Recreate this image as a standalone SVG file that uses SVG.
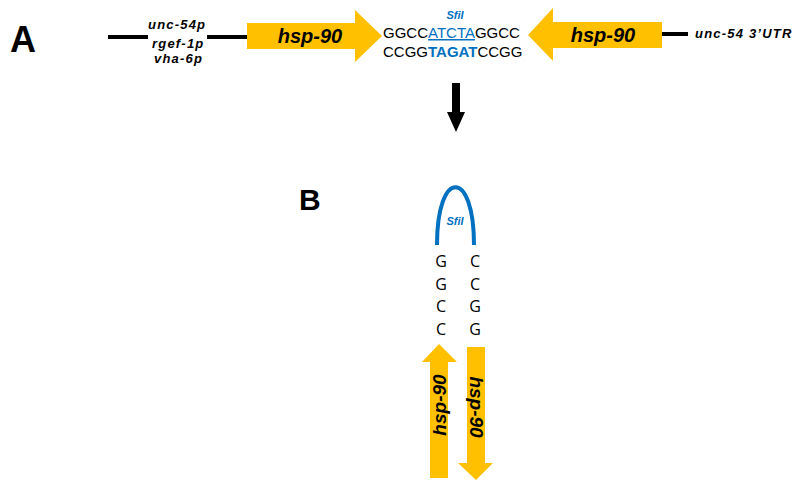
<svg xmlns="http://www.w3.org/2000/svg" width="795" height="483" viewBox="0 0 795 483">
<style>
.lbl{font-family:"Liberation Sans",Arial,sans-serif;font-weight:bold;fill:#000}
.it{font-family:"Liberation Sans",Arial,sans-serif;font-weight:bold;font-style:italic;fill:#000}
.sm{font-size:13px;letter-spacing:1.2px}
.seq{font-family:"Liberation Sans",Arial,sans-serif;font-size:15px;fill:#000}
.blue{fill:#0070C0}
.nt{font-family:"Open Sans","Liberation Sans",sans-serif;font-size:16px;fill:#000;text-anchor:middle}
.gene{fill:#FFC000}
.bar{stroke:#000;stroke-width:4}
</style>
<rect width="795" height="483" fill="#fff"/>
<g id="label-A"><text class="lbl" x="10" y="52" font-size="36">A</text></g>
<g id="label-B"><text class="lbl" x="299" y="210" font-size="30">B</text></g>
<g id="promoter">
<text class="it sm" x="148" y="29">unc-54p</text>
<text class="it sm" x="152" y="48">rgef-1p</text>
<text class="it sm" x="154" y="63">vha-6p</text>
</g>
<g id="hsp90-fwd">
<polygon class="gene" points="247,23 355,23 355,10 382,36 355,62 355,49 247,49"/>
<text class="it" x="310" y="43" font-size="20" text-anchor="middle">hsp-90</text>
</g>
<g id="sfii-site">
<text class="it blue" x="455" y="19" font-size="11" text-anchor="middle">SfiI</text>
<text class="seq" x="383" y="38">GGCC<tspan class="blue" text-decoration="underline">ATCTA</tspan>GGCC</text>
<text class="seq" x="383" y="57">CCGG<tspan class="blue" font-weight="bold">TAGAT</tspan>CCGG</text>
</g>
<g id="hsp90-rev">
<polygon class="gene" points="662,22 553,22 553,8 528,35 553,61 553,48 662,48"/>
<text class="it" x="603" y="42" font-size="20" text-anchor="middle">hsp-90</text>
</g>
<g id="utr"><text class="it sm" x="695" y="38">unc-54 3’UTR</text></g>
<g id="hairpin">
<path d="M437,245 C437,168 474,168 474,245" fill="none" stroke="#0070C0" stroke-width="4"/>
<text class="it blue" x="455" y="225" font-size="11" text-anchor="middle">SfiI</text>
<text class="nt" x="441" y="267">G</text><text class="nt" x="475" y="267">C</text>
<text class="nt" x="441" y="290">G</text><text class="nt" x="475" y="290">C</text>
<text class="nt" x="441" y="312">C</text><text class="nt" x="475" y="312">G</text>
<text class="nt" x="441" y="335">C</text><text class="nt" x="475" y="335">G</text>
</g>
<g id="hsp90-up">
<polygon class="gene" points="430,478 430,362 422,362 439,344 457,362 448,362 448,478"/>
<text class="it" transform="translate(446,405) rotate(-90)" font-size="19" text-anchor="middle">hsp-90</text>
</g>
<g id="hsp90-down">
<polygon class="gene" points="467,347 485,347 485,463 493,463 476,480 458,463 467,463"/>
<text class="it" transform="translate(470,407) rotate(90)" font-size="19" text-anchor="middle">hsp-90</text>
</g>
<g id="connectors">
<line class="bar" x1="108" y1="37" x2="148" y2="37"/>
<line class="bar" x1="207" y1="37" x2="247" y2="37"/>
<line class="bar" x1="662" y1="34" x2="688" y2="34"/>
<polygon points="452,83 460,83 460,112 465,112 456,132 447,112 452,112" fill="#000"/>
</g>
</svg>
